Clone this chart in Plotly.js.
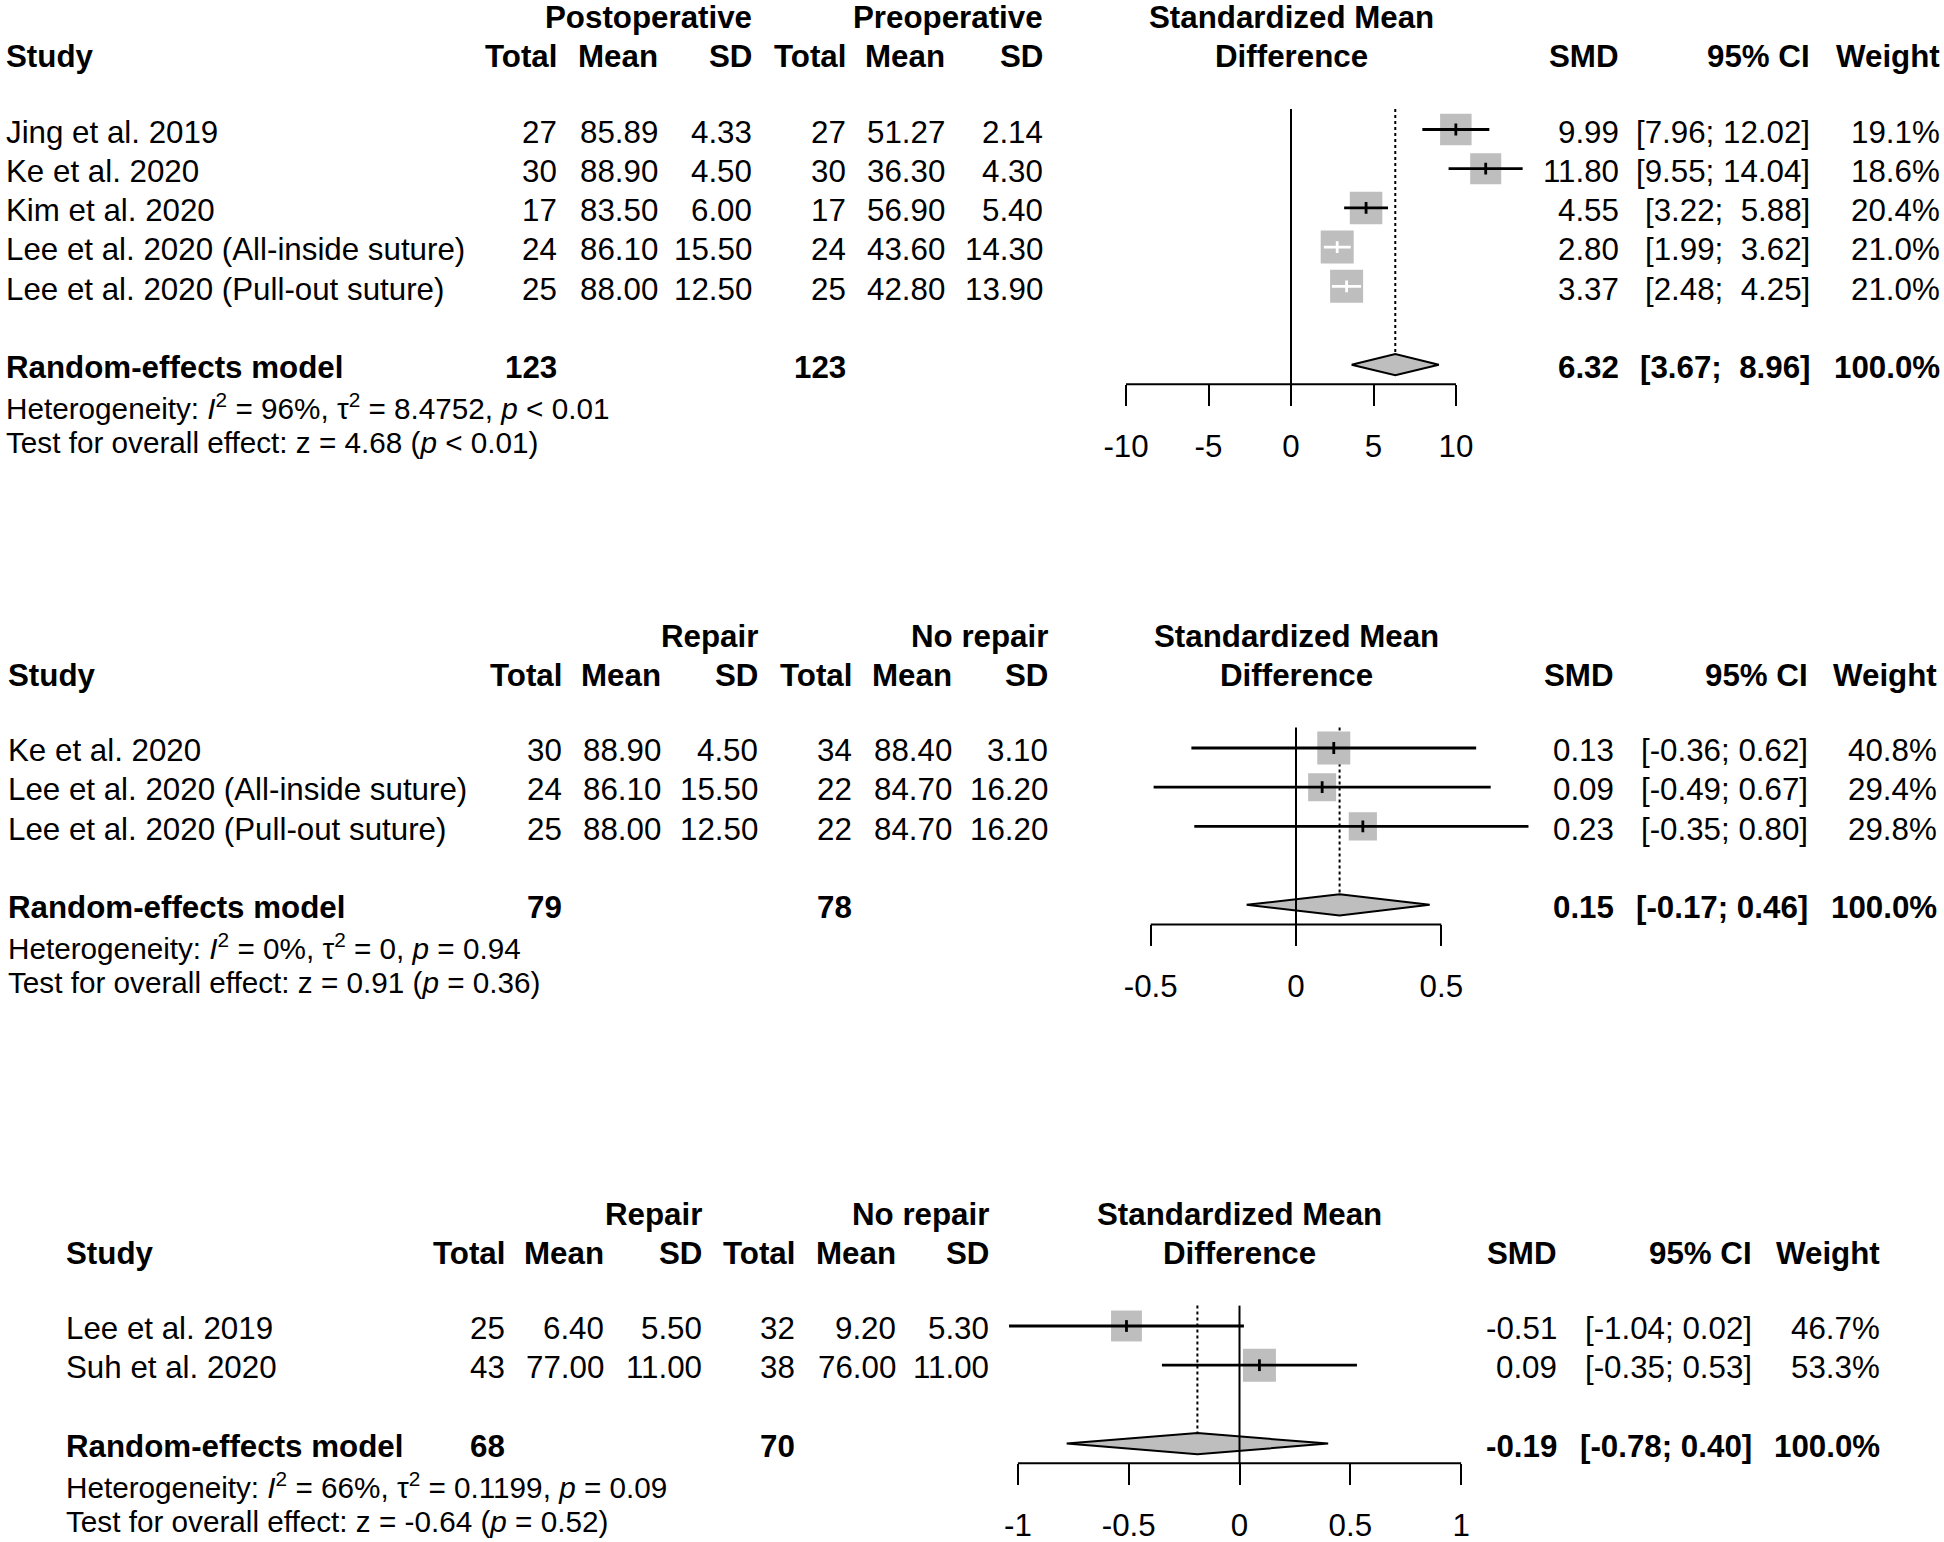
<!DOCTYPE html>
<html><head><meta charset="utf-8">
<script src="https://cdn.plot.ly/plotly-3.0.1.min.js"></script>
<style>html,body{margin:0;padding:0;background:#fff}</style>
</head><body><div id="chart" style="width:1944px;height:1542px"></div>
<script>
// ---------- DATA ----------
// Panel 1: Postoperative vs Preoperative
const studies1 = ["Jing et al. 2019","Ke et al. 2020","Kim et al. 2020","Lee et al. 2020 (All-inside suture)","Lee et al. 2020 (Pull-out suture)"];
const groups1 = ["Postoperative","Preoperative"];
const nE1 = [27,30,17,24,25];
const meanE1 = [85.89,88.90,83.50,86.10,88.00];
const sdE1 = [4.33,4.50,6.00,15.50,12.50];
const nC1 = [27,30,17,24,25];
const meanC1 = [51.27,36.30,56.90,43.60,42.80];
const sdC1 = [2.14,4.30,5.40,14.30,13.90];
const smd1 = [9.99,11.80,4.55,2.80,3.37];
const lo1 = [7.96,9.55,3.22,1.99,2.48];
const hi1 = [12.02,14.04,5.88,3.62,4.25];
const w1 = [19.1,18.6,20.4,21.0,21.0];
const pooled1 = {smd:6.32, lo:3.67, hi:8.96};
const het1 = {i2:"96%", tau2:"8.4752", p:"&lt; 0.01"};
const test1 = {z:"4.68", p:"&lt; 0.01"};
const ticks1 = [-10,-5,0,5,10];

// Panel 2: Repair vs No repair
const studies2 = ["Ke et al. 2020","Lee et al. 2020 (All-inside suture)","Lee et al. 2020 (Pull-out suture)"];
const groups2 = ["Repair","No repair"];
const nE2 = [30,24,25];
const meanE2 = [88.90,86.10,88.00];
const sdE2 = [4.50,15.50,12.50];
const nC2 = [34,22,22];
const meanC2 = [88.40,84.70,84.70];
const sdC2 = [3.10,16.20,16.20];
const smd2 = [0.13,0.09,0.23];
const lo2 = [-0.36,-0.49,-0.35];
const hi2 = [0.62,0.67,0.80];
const w2 = [40.8,29.4,29.8];
const pooled2 = {smd:0.15, lo:-0.17, hi:0.46};
const het2 = {i2:"0%", tau2:"0", p:"= 0.94"};
const test2 = {z:"0.91", p:"= 0.36"};
const ticks2 = [-0.5,0,0.5];

// Panel 3: Repair vs No repair
const studies3 = ["Lee et al. 2019","Suh et al. 2020"];
const groups3 = ["Repair","No repair"];
const nE3 = [25,43];
const meanE3 = [6.40,77.00];
const sdE3 = [5.50,11.00];
const nC3 = [32,38];
const meanC3 = [9.20,76.00];
const sdC3 = [5.30,11.00];
const smd3 = [-0.51,0.09];
const lo3 = [-1.04,-0.35];
const hi3 = [0.02,0.53];
const w3 = [46.7,53.3];
const pooled3 = {smd:-0.19, lo:-0.78, hi:0.40};
const het3 = {i2:"66%", tau2:"0.1199", p:"= 0.09"};
const test3 = {z:"-0.64", p:"= 0.52"};
const ticks3 = [-1,-0.5,0,0.5,1];

// ---------- LAYOUT CONSTANTS ----------
const W = 1944, H = 1542, ROW = 39.2;
const FONT = '"Liberation Sans", Arial, Helvetica, sans-serif';
const FS = 31.3, FS_HET = 29.7;
const BOX_MAX = 33;
const DIAM_H = 0.27;
const TICK_H = 0.15;
const TOP_ROW = -0.52;
const HDR1 = -2.92, HDR2 = -1.92;
const TEXT_DY = 0.07;
const GREY = '#BEBEBE';
const NB = '\u00A0';

const panels = [
  {sfx:'', studies:studies1, groups:groups1, nE:nE1, meanE:meanE1, sdE:sdE1, nC:nC1, meanC:meanC1, sdC:sdC1,
   smd:smd1, lo:lo1, hi:hi1, w:w1, pooled:pooled1, het:het1, test:test1, ticks:ticks1,
   row0:129.5, zeroPx:1291, ppu:16.5,
   cols:{study:6,tot:557,mean:658,sd:752,tot2:846,mean2:945,sd2:1043,smd:1619,ci:1810,wt:1940}},
  {sfx:'2', studies:studies2, groups:groups2, nE:nE2, meanE:meanE2, sdE:sdE2, nC:nC2, meanC:meanC2, sdC:sdC2,
   smd:smd2, lo:lo2, hi:hi2, w:w2, pooled:pooled2, het:het2, test:test2, ticks:ticks2,
   row0:748, zeroPx:1296, ppu:290.6,
   cols:{study:8,tot:562,mean:661,sd:758,tot2:852,mean2:952,sd2:1048,smd:1614,ci:1808,wt:1937}},
  {sfx:'3', studies:studies3, groups:groups3, nE:nE3, meanE:meanE3, sdE:sdE3, nC:nC3, meanC:meanC3, sdC:sdC3,
   smd:smd3, lo:lo3, hi:hi3, w:w3, pooled:pooled3, het:het3, test:test3, ticks:ticks3,
   row0:1326, zeroPx:1239.5, ppu:221.6,
   cols:{study:66,tot:505,mean:604,sd:702,tot2:795,mean2:896,sd2:989,smd:1557,ci:1752,wt:1880}}
];

const traces = [];
const annotations = [];
const layout = {
  width: W, height: H,
  margin: {l:0, r:0, t:0, b:0, pad:0},
  paper_bgcolor: '#ffffff', plot_bgcolor: 'rgba(0,0,0,0)',
  showlegend: false,
  font: {family: FONT, size: FS, color: '#000'},
  annotations: annotations
};

function txt(text, xval, xref, row, yref, anchor, size) {
  annotations.push({
    text: text, x: xref === 'paper' ? xval / W : xval, xref: xref,
    y: row + TEXT_DY, yref: yref, xanchor: anchor, yanchor: 'middle',
    showarrow: false, borderpad: 0, borderwidth: 0,
    font: {family: FONT, size: size || FS, color: '#000'}
  });
}
function padL(s, len) { while (s.length < len) s = NB + s; return s; }

panels.forEach(p => {
  const n = p.studies.length;
  const xa = 'x' + p.sfx, ya = 'y' + p.sfx;
  const rows = p.studies.map((_, i) => i);
  const reRow = n + 1, axisRow = n + 1.5, hetRow = n + 2, testRow = n + 2.92;
  const rTop = Math.max(-3.3, -p.row0 / ROW);
  const rBot = Math.min(n + 3.6, (H - p.row0) / ROW);
  const topPx = p.row0 + rTop * ROW, botPx = p.row0 + rBot * ROW;
  const axisPx = p.row0 + axisRow * ROW;

  layout['yaxis' + p.sfx] = {
    domain: [1 - botPx / H, 1 - topPx / H], range: [rBot, rTop],
    visible: false, fixedrange: true, anchor: xa
  };
  layout['xaxis' + p.sfx] = {
    domain: [0, 1], range: [-p.zeroPx / p.ppu, (W - p.zeroPx) / p.ppu],
    anchor: 'free', position: 1 - axisPx / H,
    showgrid: false, zeroline: false, showline: false,
    ticks: 'outside', ticklen: 21, tickwidth: 2, tickcolor: '#000',
    tickmode: 'array', tickvals: p.ticks, ticktext: p.ticks.map(String),
    tickfont: {family: FONT, size: FS, color: '#000'},
    ticklabelstandoff: 13, fixedrange: true
  };

  const base = {xaxis: xa, yaxis: ya, hoverinfo: 'skip', showlegend: false};
  const maxW = Math.max(...p.w);
  const sizes = p.w.map(w => BOX_MAX * Math.sqrt(w / maxW));
  const inside = p.lo.map((l, i) => (p.hi[i] - l) * p.ppu < sizes[i]);

  // dotted line at pooled estimate
  traces.push(Object.assign({}, base, {
    type: 'scatter', mode: 'lines',
    x: [p.pooled.smd, p.pooled.smd], y: [TOP_ROW, reRow - DIAM_H],
    line: {color: '#000', width: 2, dash: 'dot'}
  }));
  // boxes
  traces.push(Object.assign({}, base, {
    type: 'scatter', mode: 'markers', x: p.smd, y: rows,
    marker: {symbol: 'square', size: sizes, color: GREY, opacity: 1, line: {width: 0}}
  }));
  // CI lines + estimate ticks, black and white groups
  ['#000000', '#ffffff'].forEach((col, gi) => {
    const cx = [], cy = [];
    p.smd.forEach((s, i) => {
      if (inside[i] !== (gi === 1)) return;
      cx.push(p.lo[i], p.hi[i], null, s, s, null);
      cy.push(i, i, null, i - TICK_H, i + TICK_H, null);
    });
    if (cx.length) traces.push(Object.assign({}, base, {
      type: 'scatter', mode: 'lines', x: cx, y: cy,
      line: {color: col, width: 2.8}
    }));
  });
  // diamond
  const P = p.pooled;
  traces.push(Object.assign({}, base, {
    type: 'scatter', mode: 'lines',
    x: [P.lo, P.smd, P.hi, P.smd, P.lo],
    y: [reRow, reRow - DIAM_H, reRow, reRow + DIAM_H, reRow],
    fill: 'toself', fillcolor: GREY, line: {color: '#000', width: 2}
  }));
  // zero line
  traces.push(Object.assign({}, base, {
    type: 'scatter', mode: 'lines', x: [0, 0], y: [TOP_ROW, axisRow],
    line: {color: '#000', width: 2}
  }));
  // axis baseline between outer ticks
  traces.push(Object.assign({}, base, {
    type: 'scatter', mode: 'lines',
    x: [Math.min(...p.ticks), Math.max(...p.ticks)], y: [axisRow, axisRow],
    line: {color: '#000', width: 2}
  }));

  // ---------- text ----------
  const c = p.cols;
  const mid = (Math.min(...p.ticks) + Math.max(...p.ticks)) / 2;
  txt('<b>' + p.groups[0] + '</b>', c.sd, 'paper', HDR1, ya, 'right');
  txt('<b>' + p.groups[1] + '</b>', c.sd2, 'paper', HDR1, ya, 'right');
  txt('<b>Standardized Mean</b>', mid, xa, HDR1, ya, 'center');
  txt('<b>Study</b>', c.study, 'paper', HDR2, ya, 'left');
  [['Total', c.tot], ['Mean', c.mean], ['SD', c.sd], ['Total', c.tot2], ['Mean', c.mean2], ['SD', c.sd2],
   ['SMD', c.smd], ['95% CI', c.ci], ['Weight', c.wt]].forEach(h => txt('<b>' + h[0] + '</b>', h[1], 'paper', HDR2, ya, 'right'));
  txt('<b>Difference</b>', mid, xa, HDR2, ya, 'center');

  const loS = p.lo.concat([P.lo]).map(v => v.toFixed(2));
  const hiS = p.hi.concat([P.hi]).map(v => v.toFixed(2));
  const loLen = Math.max(...loS.map(s => s.length)), hiLen = Math.max(...hiS.map(s => s.length));
  const ci = (i) => '[' + padL(loS[i], loLen) + ';' + NB + padL(hiS[i], hiLen) + ']';

  p.studies.forEach((s, i) => {
    txt(s, c.study, 'paper', i, ya, 'left');
    txt(String(p.nE[i]), c.tot, 'paper', i, ya, 'right');
    txt(p.meanE[i].toFixed(2), c.mean, 'paper', i, ya, 'right');
    txt(p.sdE[i].toFixed(2), c.sd, 'paper', i, ya, 'right');
    txt(String(p.nC[i]), c.tot2, 'paper', i, ya, 'right');
    txt(p.meanC[i].toFixed(2), c.mean2, 'paper', i, ya, 'right');
    txt(p.sdC[i].toFixed(2), c.sd2, 'paper', i, ya, 'right');
    txt(p.smd[i].toFixed(2), c.smd, 'paper', i, ya, 'right');
    txt(ci(i), c.ci, 'paper', i, ya, 'right');
    txt(p.w[i].toFixed(1) + '%', c.wt, 'paper', i, ya, 'right');
  });
  const sum = a => a.reduce((x, y) => x + y, 0);
  const wSum = sum(p.w);
  txt('<b>Random-effects model</b>', c.study, 'paper', reRow, ya, 'left');
  txt('<b>' + sum(p.nE) + '</b>', c.tot, 'paper', reRow, ya, 'right');
  txt('<b>' + sum(p.nC) + '</b>', c.tot2, 'paper', reRow, ya, 'right');
  txt('<b>' + P.smd.toFixed(2) + '</b>', c.smd, 'paper', reRow, ya, 'right');
  txt('<b>' + ci(n) + '</b>', c.ci, 'paper', reRow, ya, 'right');
  txt('<b>' + (Math.round(wSum)).toFixed(1) + '%</b>', c.wt, 'paper', reRow, ya, 'right');

  txt('Heterogeneity: <i>I</i><sup>2</sup> = ' + p.het.i2 + ', τ<sup>2</sup> = ' + p.het.tau2 + ', <i>p</i> ' + p.het.p,
      c.study, 'paper', hetRow, ya, 'left', FS_HET);
  txt('Test for overall effect: z = ' + p.test.z + ' (<i>p</i> ' + p.test.p + ')',
      c.study, 'paper', testRow, ya, 'left', FS_HET);
});

Plotly.newPlot('chart', traces, layout, {displayModeBar: false, staticPlot: true});
</script>
</body></html>
